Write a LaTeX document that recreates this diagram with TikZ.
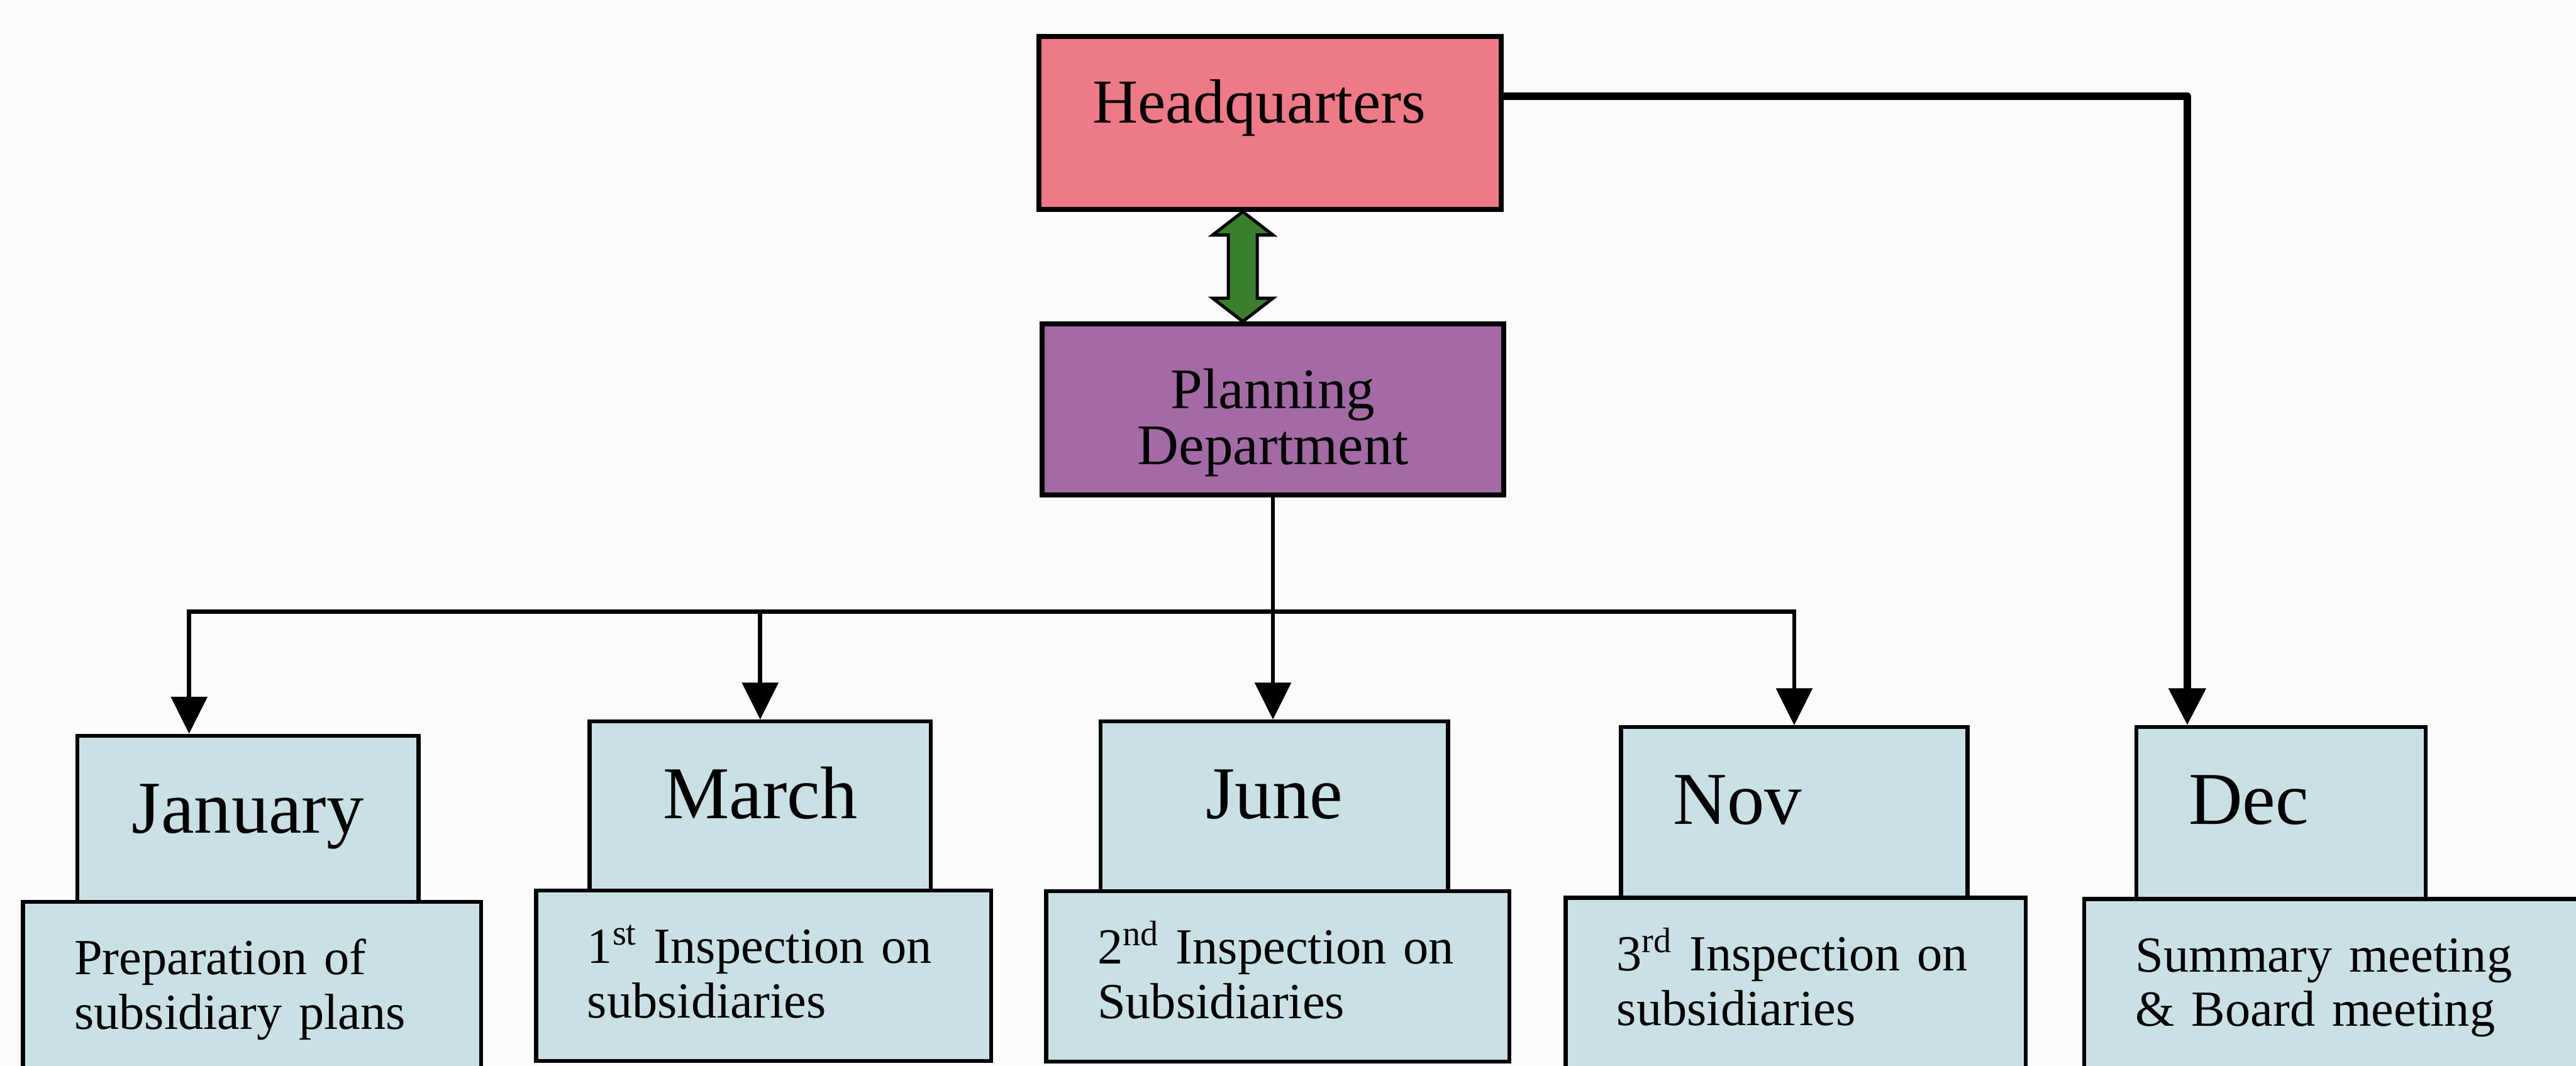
\documentclass[tikz,border=0pt]{standalone}
\usepackage{fontspec}
\setmainfont{Liberation Serif}
\usetikzlibrary{arrows.meta,calc}

\definecolor{paper}{HTML}{FAFCFB}
\definecolor{hqpink}{HTML}{EF7A87}
\definecolor{planpurple}{HTML}{A46AA6}
\definecolor{linkgreen}{HTML}{3A7F2C}
\definecolor{monthblue}{HTML}{C9E0E4}

\tikzset{
  hqbox/.style={draw, line width=2.4pt, fill=hqpink, minimum width=8.13cm, minimum height=3.04cm,
    font=\fontsize{31.3pt}{34pt}\selectfont, text height=0.3cm, text depth=0.3cm},
  planbox/.style={draw, line width=2.4pt, fill=planpurple, minimum width=8.12cm, minimum height=3.01cm,
    align=center, font=\fontsize{28.7pt}{28.2pt}\selectfont, text height=2.1cm, text depth=0.16cm},
  monthbox/.style={draw, line width=2pt, fill=monthblue, anchor=north, minimum height=3.2cm,
    font=\fontsize{37.3pt}{40pt}\selectfont, text height=0.95cm, text depth=0.73cm},
  notebox/.style={draw, line width=2pt, fill=monthblue, anchor=north west, text width=#1, align=left,
    inner xsep=0.9cm, inner ysep=0pt, minimum height=3cm,
    font=\fontsize{25.3pt}{27.3pt}\selectfont, text height=0.68cm, text depth=1.12cm},
  link/.style={line width=2.1pt, -{Triangle[width=0.63cm,length=0.65cm]}},
  buslink/.style={line width=2.1pt, {Triangle[width=0.63cm,length=0.65cm]}-{Triangle[width=0.63cm,length=0.65cm]}},
  hqlink/.style={line width=3.7pt, line join=round, -{Triangle[width=0.63cm,length=0.65cm]}},
  greenarrow/.style={draw, line width=1.6pt, fill=linkgreen}
}

\begin{document}
\begin{tikzpicture}
  \fill[paper] (0,0) rectangle (45.29,-18.74);
  \useasboundingbox (0,0) rectangle (45.29,-18.74);

  \node[hqbox] (hq) at (22.33,-2.16) {Headquarters\hspace*{0.38cm}};
  \node[planbox] (pd) at (22.38,-7.20) {Planning\\Department};

  \node[monthbox, minimum width=6.00cm] (jan) at (4.36,-12.90) {January};
  \node[monthbox, minimum width=6.00cm] (mar) at (13.365,-12.65) {March};
  \node[monthbox, minimum width=6.11cm] (jun) at (22.405,-12.65) {June};
  \node[monthbox, minimum width=6.09cm] (nov) at (31.545,-12.75) {Nov\hspace*{2cm}};
  \node[monthbox, minimum width=5.09cm] (dec) at (40.105,-12.75) {Dec\hspace*{1.14cm}};

  \node[notebox=6.25cm] (janlow) at (0.37,-15.82) {Preparation of\\subsidiary plans};
  \node[notebox=6.20cm] (marlow) at (9.39,-15.62) {1\textsuperscript{st} Inspection on\\subsidiaries};
  \node[notebox=6.34cm] (junlow) at (18.36,-15.63) {2\textsuperscript{nd} Inspection on\\Subsidiaries};
  \node[notebox=6.29cm] (novlow) at (27.49,-15.75) {3\textsuperscript{rd} Inspection on\\subsidiaries};
  \node[notebox=7.20cm] (declow) at (36.61,-15.77) {Summary meeting\\\& Board meeting};

  \coordinate (bus) at (0,-10.75);
  \coordinate (janin) at ($(jan.north west)+(2.00,0)$);
  \coordinate (decin) at ($(dec.north west)+(0.93,0)$);
  \coordinate (gtop) at ($(hq.south)+(-0.48,0)$);
  \coordinate (gbot) at ($(pd.north)+(-0.53,0)$);

  \draw[greenarrow] (gtop) -- ++(0.53,-0.41) -- ++(-0.275,0) -- ($(gbot)+(0.255,0.41)$)
    -- ++(0.275,0) -- (gbot) -- ++(-0.53,0.41) -- ++(0.275,0)
    -- ($(gtop)+(-0.255,-0.41)$) -- ++(-0.275,0) -- cycle;

  \draw[link] (pd.south) -- (pd.south |- jun.north);
  \draw[buslink] (janin) |- (nov.north |- bus) -- (nov.north);
  \draw[link] (mar.north |- bus) -- (mar.north);
  \draw[hqlink] ($(hq.east)+(0,0.47)$) -| (decin);
\end{tikzpicture}
\end{document}
